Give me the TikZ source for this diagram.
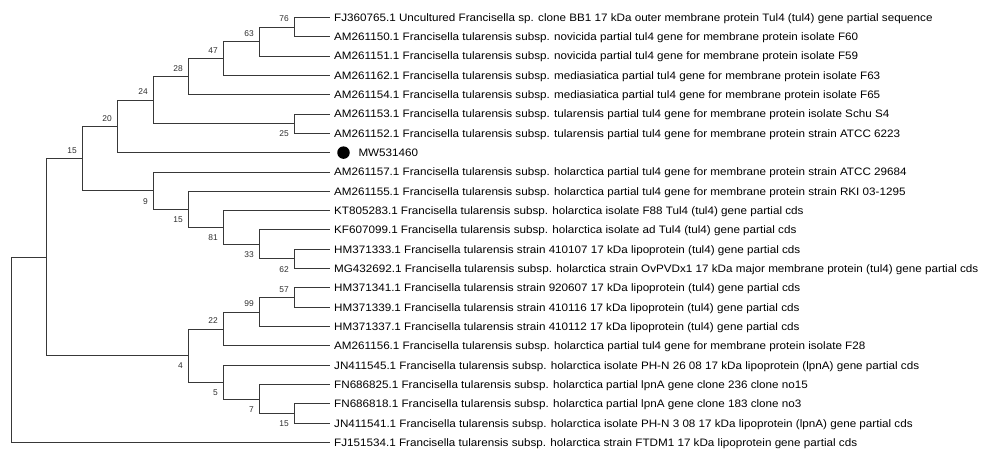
\documentclass[tikz,border=0pt]{standalone}
\usepackage{fontspec}
\setmainfont{Liberation Sans}
\newfontfamily\leaffont[FakeStretch=1.08]{Liberation Sans}
\begin{document}
\begin{tikzpicture}[x=1pt,y=-1pt,
  br/.style={draw=black!78,line width=0.9pt},
  leaf/.style={anchor=west,inner xsep=4pt,inner ysep=0pt,font=\leaffont\fontsize{10.8}{12}\selectfont,text height=7.6pt,text depth=0pt},
  bs/.style={anchor=east,inner sep=0pt,font=\fontsize{8.4}{10}\selectfont,text=black!82,text height=6pt,text depth=0pt},
  bsu/.style={bs,yshift=8.3pt},
  bsd/.style={bs,yshift=-10.3pt}]
\useasboundingbox (0,0) rectangle (983,450);
% leaves
\node[leaf] (l1) at (330,17.3) {FJ360765.1 Uncultured Francisella sp. clone BB1 17 kDa outer membrane protein Tul4 (tul4) gene partial sequence};
\node[leaf] (l2) at (330,36.6) {AM261150.1 Francisella tularensis subsp. novicida partial tul4 gene for membrane protein isolate F60};
\node[leaf] (l3) at (330,56.0) {AM261151.1 Francisella tularensis subsp. novicida partial tul4 gene for membrane protein isolate F59};
\node[leaf] (l4) at (330,75.3) {AM261162.1 Francisella tularensis subsp. mediasiatica partial tul4 gene for membrane protein isolate F63};
\node[leaf] (l5) at (330,94.6) {AM261154.1 Francisella tularensis subsp. mediasiatica partial tul4 gene for membrane protein isolate F65};
\node[leaf] (l6) at (330,114.0) {AM261153.1 Francisella tularensis subsp. tularensis partial tul4 gene for membrane protein isolate Schu S4};
\node[leaf] (l7) at (330,133.3) {AM261152.1 Francisella tularensis subsp. tularensis partial tul4 gene for membrane protein strain ATCC 6223};
\coordinate (l8) at (330,152.6);
\node[circle,fill=black,inner sep=0pt,minimum size=12.5pt] (dot) at (343.5,152.6) {};
\node[leaf,inner xsep=0pt] (t8) at (358.3,152.6) {MW531460};
\node[leaf] (l9) at (330,172.0) {AM261157.1 Francisella tularensis subsp. holarctica partial tul4 gene for membrane protein strain ATCC 29684};
\node[leaf] (l10) at (330,191.3) {AM261155.1 Francisella tularensis subsp. holarctica partial tul4 gene for membrane protein strain RKI 03-1295};
\node[leaf] (l11) at (330,210.6) {KT805283.1 Francisella tularensis subsp. holarctica isolate F88 Tul4 (tul4) gene partial cds};
\node[leaf] (l12) at (330,229.9) {KF607099.1 Francisella tularensis subsp. holarctica isolate ad Tul4 (tul4) gene partial cds};
\node[leaf] (l13) at (330,249.3) {HM371333.1 Francisella tularensis strain 410107 17 kDa lipoprotein (tul4) gene partial cds};
\node[leaf] (l14) at (330,268.6) {MG432692.1 Francisella tularensis subsp. holarctica strain OvPVDx1 17 kDa major membrane protein (tul4) gene partial cds};
\node[leaf] (l15) at (330,287.9) {HM371341.1 Francisella tularensis strain 920607 17 kDa lipoprotein (tul4) gene partial cds};
\node[leaf] (l16) at (330,307.3) {HM371339.1 Francisella tularensis strain 410116 17 kDa lipoprotein (tul4) gene partial cds};
\node[leaf] (l17) at (330,326.6) {HM371337.1 Francisella tularensis strain 410112 17 kDa lipoprotein (tul4) gene partial cds};
\node[leaf] (l18) at (330,345.9) {AM261156.1 Francisella tularensis subsp. holarctica partial tul4 gene for membrane protein isolate F28};
\node[leaf] (l19) at (330,365.2) {JN411545.1 Francisella tularensis subsp. holarctica isolate PH-N 26 08 17 kDa lipoprotein (lpnA) gene partial cds};
\node[leaf] (l20) at (330,384.6) {FN686825.1 Francisella tularensis subsp. holarctica partial lpnA gene clone 236 clone no15};
\node[leaf] (l21) at (330,403.9) {FN686818.1 Francisella tularensis subsp. holarctica partial lpnA gene clone 183 clone no3};
\node[leaf] (l22) at (330,423.2) {JN411541.1 Francisella tularensis subsp. holarctica isolate PH-N 3 08 17 kDa lipoprotein (lpnA) gene partial cds};
\node[leaf] (l23) at (330,442.6) {FJ151534.1 Francisella tularensis subsp. holarctica strain FTDM1 17 kDa lipoprotein gene partial cds};
% internal nodes
\coordinate (n76) at (294,27.0);
\coordinate (n63) at (259,41.5);
\coordinate (n47) at (223,58.4);
\coordinate (n28) at (188,76.5);
\coordinate (n25) at (294,123.65);
\coordinate (n24) at (153,100.1);
\coordinate (n20) at (117,126.3);
\coordinate (n62) at (294,258.9);
\coordinate (n33) at (259,244.4);
\coordinate (n81) at (223,227.5);
\coordinate (n15b) at (188,209.4);
\coordinate (n9) at (153,190.7);
\coordinate (n15a) at (82,158.5);
\coordinate (n57) at (294,297.6);
\coordinate (n99) at (259,312.1);
\coordinate (n22) at (223,329.0);
\coordinate (n15c) at (294,413.5);
\coordinate (n7) at (259,399.0);
\coordinate (n5) at (223,382.1);
\coordinate (n4) at (188,355.6);
\coordinate (nA) at (46.7,257.0);
\coordinate (root) at (11.7,349.8);
% branches
\draw[br] (n76) |- (l1); \draw[br] (n76) |- (l2);
\draw[br] (n63) |- (n76); \draw[br] (n63) |- (l3);
\draw[br] (n47) |- (n63); \draw[br] (n47) |- (l4);
\draw[br] (n28) |- (n47); \draw[br] (n28) |- (l5);
\draw[br] (n25) |- (l6); \draw[br] (n25) |- (l7);
\draw[br] (n24) |- (n28); \draw[br] (n24) |- (n25);
\draw[br] (n20) |- (n24); \draw[br] (n20) |- (l8);
\draw[br] (n62) |- (l13); \draw[br] (n62) |- (l14);
\draw[br] (n33) |- (l12); \draw[br] (n33) |- (n62);
\draw[br] (n81) |- (l11); \draw[br] (n81) |- (n33);
\draw[br] (n15b) |- (l10); \draw[br] (n15b) |- (n81);
\draw[br] (n9) |- (l9); \draw[br] (n9) |- (n15b);
\draw[br] (n15a) |- (n20); \draw[br] (n15a) |- (n9);
\draw[br] (n57) |- (l15); \draw[br] (n57) |- (l16);
\draw[br] (n99) |- (n57); \draw[br] (n99) |- (l17);
\draw[br] (n22) |- (n99); \draw[br] (n22) |- (l18);
\draw[br] (n15c) |- (l21); \draw[br] (n15c) |- (l22);
\draw[br] (n7) |- (l20); \draw[br] (n7) |- (n15c);
\draw[br] (n5) |- (l19); \draw[br] (n5) |- (n7);
\draw[br] (n4) |- (n22); \draw[br] (n4) |- (n5);
\draw[br] (nA) |- (n15a); \draw[br] (nA) |- (n4);
\draw[br] (root) |- (nA); \draw[br] (root) |- (l23);
% bootstrap values
\node[bsu] (b76) at ([xshift=-5pt]n76) {76};
\node[bsu] (b63) at ([xshift=-5pt]n63) {63};
\node[bsu] (b47) at ([xshift=-5pt]n47) {47};
\node[bsu] (b28) at ([xshift=-5pt]n28) {28};
\node[bsu] (b24) at ([xshift=-5pt]n24) {24};
\node[bsu] (b20) at ([xshift=-5pt]n20) {20};
\node[bsu] (b15a) at ([xshift=-5pt]n15a) {15};
\node[bsd] (b25) at ([xshift=-5pt]n25) {25};
\node[bsd] (b9) at ([xshift=-5pt]n9) {9};
\node[bsd] (b15b) at ([xshift=-5pt]n15b) {15};
\node[bsd] (b81) at ([xshift=-5pt]n81) {81};
\node[bsd] (b33) at ([xshift=-5pt]n33) {33};
\node[bsd] (b62) at ([xshift=-5pt]n62) {62};
\node[bsu] (b57) at ([xshift=-5pt]n57) {57};
\node[bsu] (b99) at ([xshift=-5pt]n99) {99};
\node[bsu] (b22) at ([xshift=-5pt]n22) {22};
\node[bsd] (b4) at ([xshift=-5pt]n4) {4};
\node[bsd] (b5) at ([xshift=-5pt]n5) {5};
\node[bsd] (b7) at ([xshift=-5pt]n7) {7};
\node[bsd] (b15c) at ([xshift=-5pt]n15c) {15};
\end{tikzpicture}
\end{document}
